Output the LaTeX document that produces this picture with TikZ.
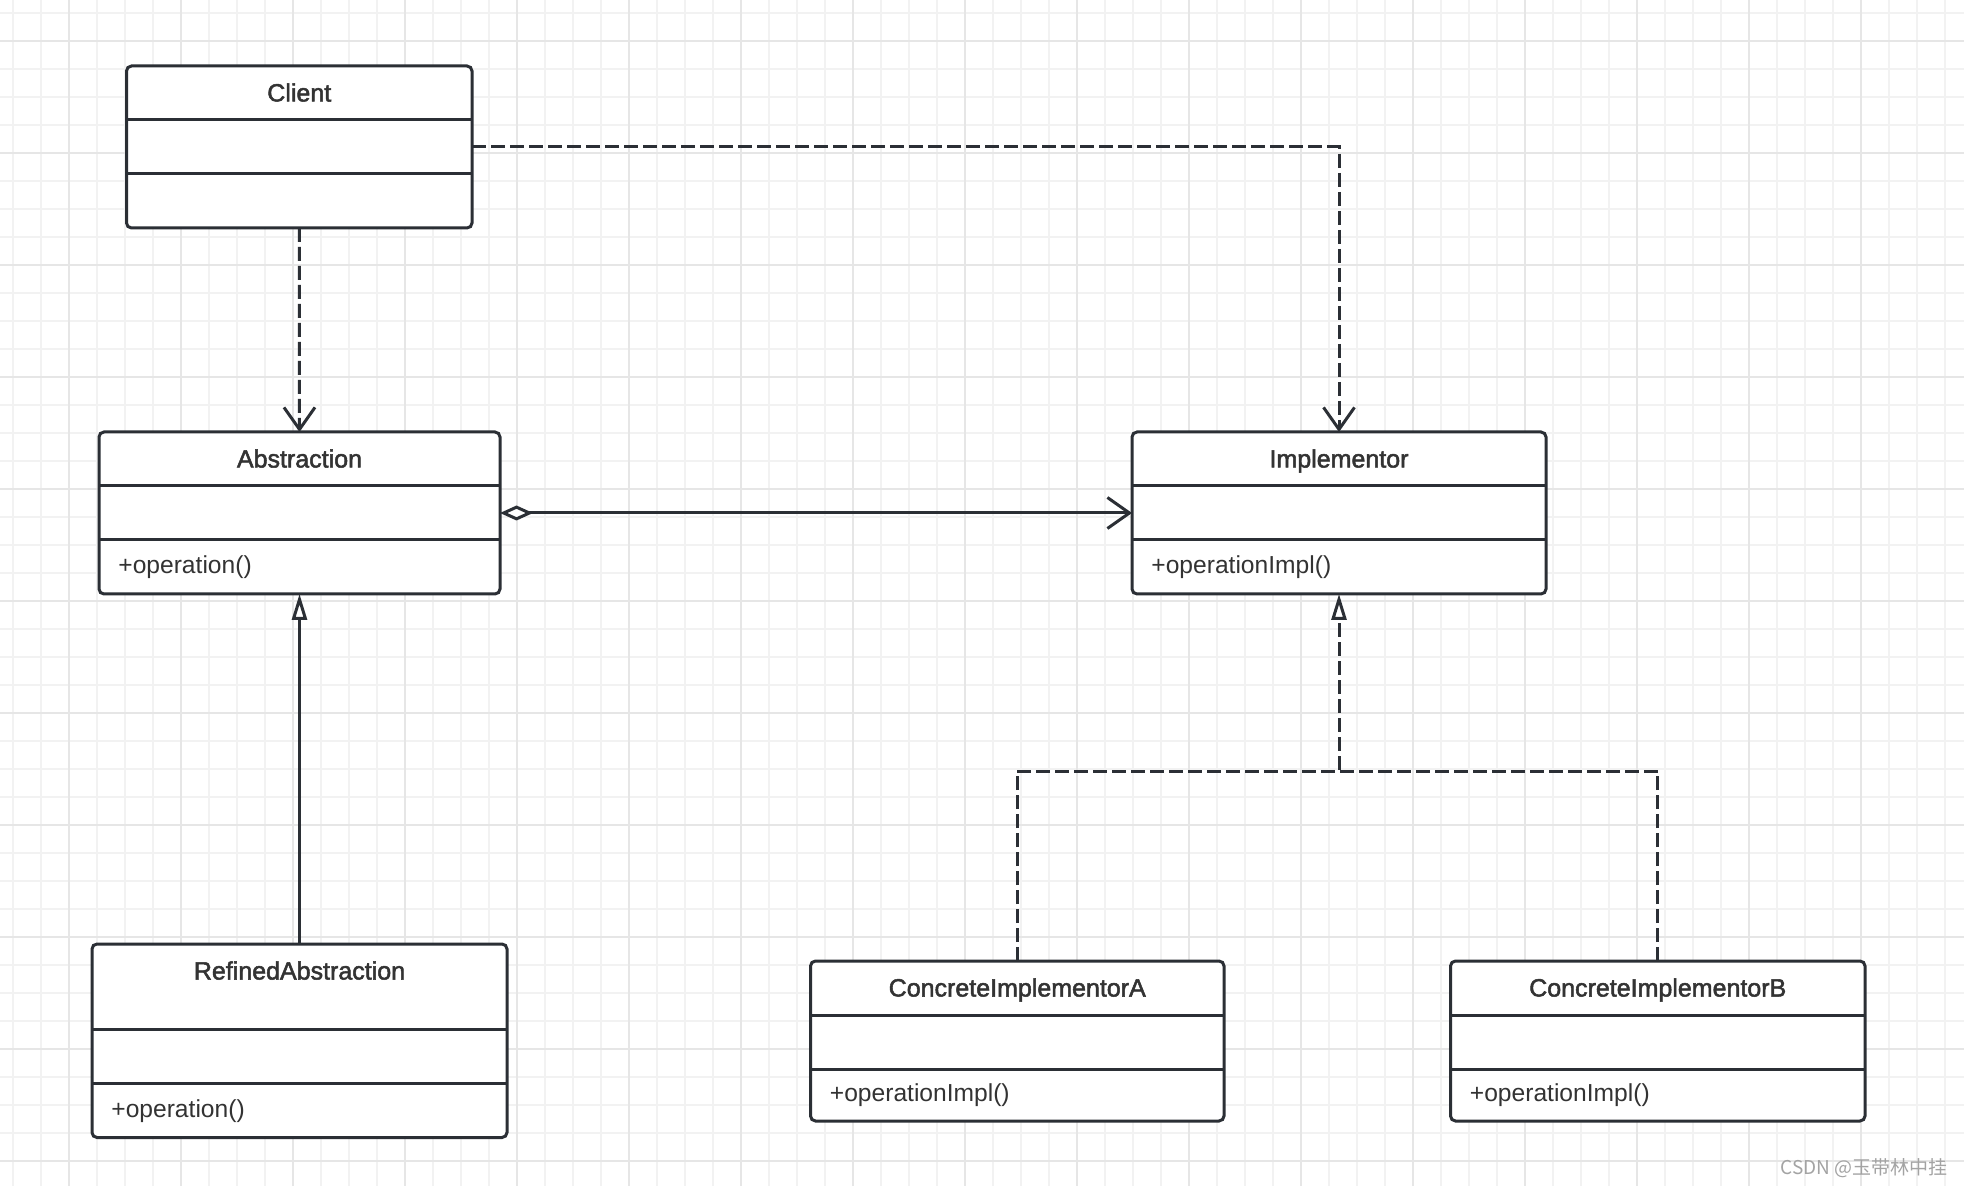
\documentclass[tikz,border=0pt]{standalone}
\usepackage{fontspec}
\setmainfont{Liberation Sans}
\newfontfamily\titlefont[FakeBold=2]{Liberation Sans}
\newfontfamily\cjkfont{Noto Sans CJK SC}
\usetikzlibrary{arrows.meta,calc}
\definecolor{ink}{HTML}{2B2F35}
\definecolor{txt}{HTML}{333333}
\definecolor{gridminor}{HTML}{F2F2F2}
\definecolor{gridmajor}{HTML}{E6E6E6}
\definecolor{wm}{HTML}{A3A3A3}
\tikzset{
  clsbox/.style={draw=ink, fill=white, line width=1.5pt, rounded corners=2.5pt, inner sep=0pt, outer sep=0pt},
  divline/.style={draw=ink, line width=1.5pt},
  clstitle/.style={text=txt, font=\titlefont\fontsize{12.5}{14}\selectfont, inner sep=0pt, anchor=base},
  clsop/.style={text=txt, font=\fontsize{12.3}{14}\selectfont, inner sep=0pt, anchor=base west},
  conn/.style={draw=ink, line width=1.5pt},
  depline/.style={conn, dash pattern=on 7pt off 2.5pt},
  openhead/.style={-{Straight Barb[length=11pt,width=15.5pt]}},
  trihead/.style={-{Triangle[length=13pt,width=7.5pt,fill=white]}},
  aggrhead/.style={{Diamond[length=16.5pt,width=7.5pt,fill=white]}-{Straight Barb[length=11pt,width=15.5pt]}},
  gridmin/.style={draw=gridminor, line width=0.9pt},
  gridmaj/.style={draw=gridmajor, line width=1pt},
}
\newcommand{\umlcls}[7]{%
  \node[clsbox, minimum width={(#4-#2)*0.5pt}, minimum height={(#5-#3)*0.5pt}] (#1) at ({(#2+#4)/2},{(#3+#5)/2}) {};
  \draw[divline] ({#2},{#3+#6}) -- ({#4},{#3+#6});
  \draw[divline] ({#2},{#3+#6+54}) -- ({#4},{#3+#6+54});
  \node[clstitle] (#1-title) at ({(#2+#4)/2},{#3+35.5}) {#7};
}
\begin{document}
\begin{tikzpicture}[x=0.5pt,y=-0.5pt]
\useasboundingbox (0,0) rectangle (1964,1186);
\fill[white] (0,0) rectangle (1964,1186);
% grid
\foreach \i in {0,...,69} { \draw[gridmin] ({13.3+28*\i},0) -- ({13.3+28*\i},1186); }
\foreach \j in {0,...,41} { \draw[gridmin] (0,{13.3+28*\j}) -- (1964,{13.3+28*\j}); }
\foreach \i in {0,...,16} { \draw[gridmaj] ({69.3+112*\i},0) -- ({69.3+112*\i},1186); }
\foreach \j in {0,...,10} { \draw[gridmaj] (0,{41.3+112*\j}) -- (1964,{41.3+112*\j}); }
% classes
\umlcls{client}{126.5}{66}{472}{228}{54}{Client}
\umlcls{abstraction}{99}{432}{500}{594}{54}{Abstraction}
\umlcls{implementor}{1132}{432}{1546}{594}{54}{Implementor}
\umlcls{refined}{92}{944}{507}{1137.5}{85}{RefinedAbstraction}
\umlcls{concA}{810.5}{961}{1224}{1121}{54}{ConcreteImplementorA}
\umlcls{concB}{1450.5}{961}{1865}{1121}{54}{ConcreteImplementorB}
\node[clsop] (abstraction-op) at (118,574) {+operation()};
\node[clsop] (implementor-op) at (1151,574) {+operationImpl()};
\node[clsop] (refined-op) at (111,1117.5) {+operation()};
\node[clsop] (concA-op) at (829.5,1101) {+operationImpl()};
\node[clsop] (concB-op) at (1469.5,1101) {+operationImpl()};
% connectors
\draw[depline, openhead] (client.south) -- (abstraction.north);
\draw[depline, openhead] (client.east) -| (implementor.north);
\draw[conn, aggrhead] (abstraction.east) -- (implementor.west);
\draw[conn, trihead] (refined.north) -- (abstraction.south);
\coordinate (join) at (1339,771);
\draw[depline] (concB.north) |- (join);
\draw[depline, trihead] (concA.north) |- (join) -- (implementor.south);
% watermark
\node[font=\cjkfont\fontsize{9.5}{10}\selectfont, text=wm, anchor=east, inner sep=0pt] (wmark) at (1948,1168) {CSDN @玉带林中挂};
\end{tikzpicture}
\end{document}
